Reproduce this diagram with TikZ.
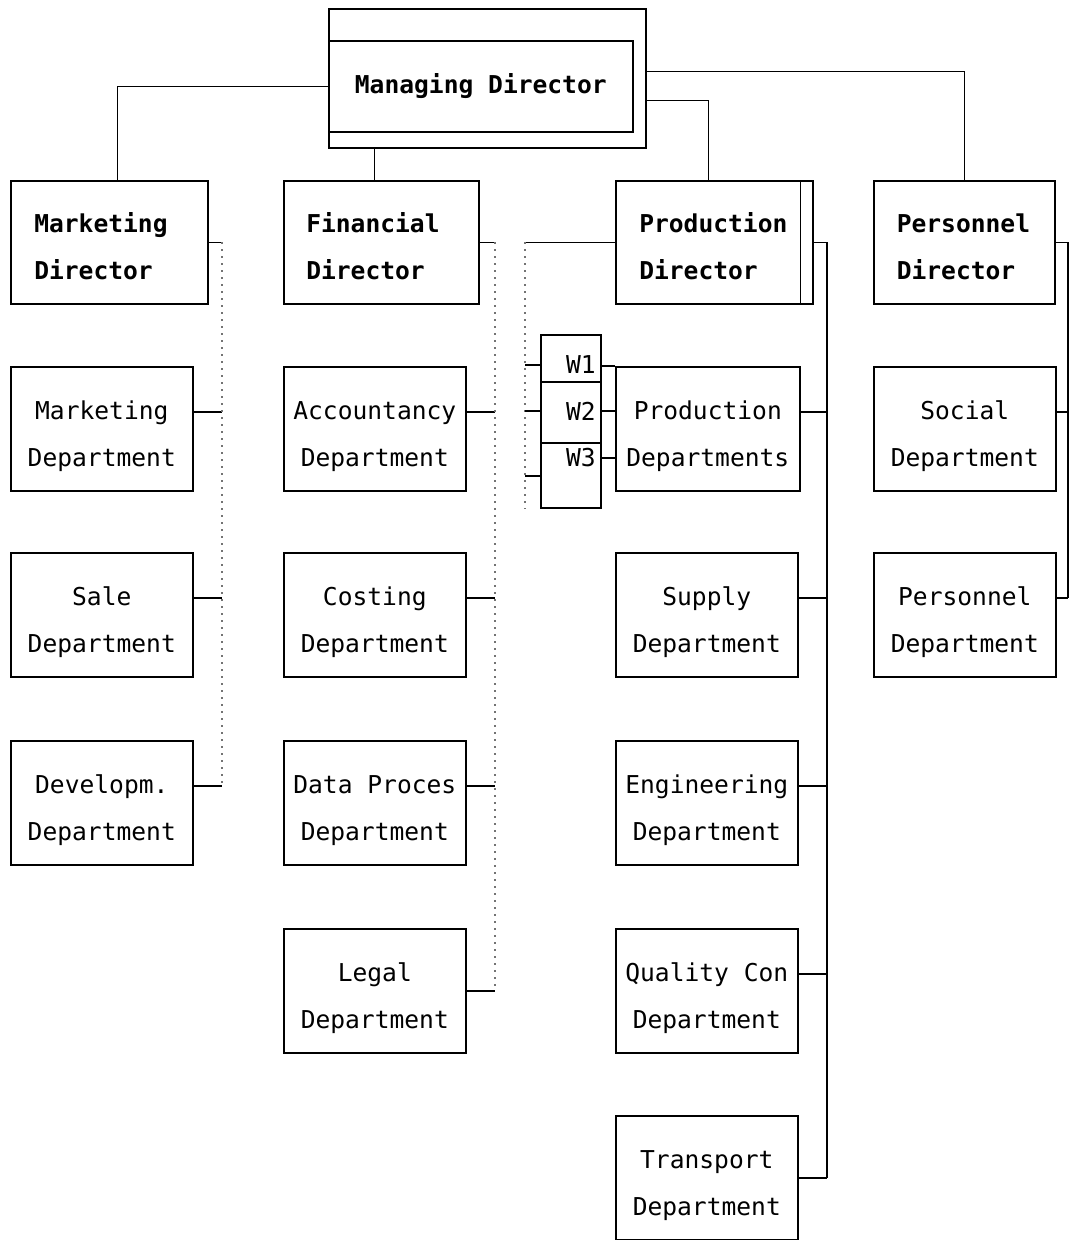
\documentclass[tikz,border=0pt]{standalone}
\usepackage{fontspec}
\newfontfamily\chartfont{DejaVu Sans Mono}
\tikzstyle{dirbox} = [rectangle, draw, line width=1.6pt, anchor=north west,
    minimum width=197pt, minimum height=123pt, inner sep=0pt, align=left,
    text width=150pt, text height=0pt, text depth=19pt,
    font=\chartfont\bfseries\fontsize{24.6}{47}\selectfont]
\tikzstyle{deptbox} = [rectangle, draw, line width=1.6pt, anchor=north west,
    minimum width=182pt, minimum height=124pt, inner sep=0pt, align=center,
    text height=76pt, text depth=0pt,
    font=\chartfont\fontsize{24.6}{47}\selectfont]
\tikzstyle{wlabel} = [anchor=east, inner sep=0pt, font=\chartfont\fontsize{24.6}{47}\selectfont]

\begin{document}
\begin{tikzpicture}[x=1pt,y=-1pt,
                    link/.style={line width=1.6pt},
                    faint/.style={line width=1.2pt,black!55,dash pattern=on 2pt off 5pt}]
  \useasboundingbox (0,0) rectangle (1070,1240);

  % managing director
  \node[rectangle,draw,line width=1.6pt,anchor=north west,minimum width=317pt,
        minimum height=139pt] (mdout) at (328,8) {};
  \node[dirbox,minimum width=304pt,minimum height=91pt,text width=,align=center,
        text height=15pt,text depth=0pt] (md) at (328,40) {Managing Director};

  % directors
  \node[dirbox]                    (mkd)   at (10,180)  {Marketing\\Director};
  \node[dirbox,minimum width=195pt] (fd)    at (283,180) {Financial\\Director};
  \node[dirbox]                    (pd)    at (615,180) {Production\\Director};
  \node[dirbox,minimum width=181pt,text width=135pt] (persd) at (873,180) {Personnel\\Director};
  \draw[link] ([xshift=-13pt]pd.north east) -- ([xshift=-13pt]pd.south east);

  % departments
  \node[deptbox] (mkdept)   at (10,366)   {Marketing\\Department};
  \node[deptbox] (sale)     at (10,552)   {Sale\\Department};
  \node[deptbox] (dev)      at (10,740)   {Developm.\\Department};
  \node[deptbox] (acc)      at (283,366)  {Accountancy\\Department};
  \node[deptbox] (cost)     at (283,552)  {Costing\\Department};
  \node[deptbox] (data)     at (283,740)  {Data Proces\\Department};
  \node[deptbox] (legal)    at (283,928)  {Legal\\Department};
  \node[deptbox,minimum width=184pt] (pdd) at (615,366) {Production\\Departments};
  \node[deptbox] (supply)   at (615,552)  {Supply\\Department};
  \node[deptbox] (eng)      at (615,740)  {Engineering\\Department};
  \node[deptbox] (qual)     at (615,928)  {Quality Con\\Department};
  \node[deptbox] (trans)    at (615,1115) {Transport\\Department};
  \node[deptbox] (social)   at (873,366)  {Social\\Department};
  \node[deptbox] (persdept) at (873,552)  {Personnel\\Department};

  % works
  \node[rectangle,draw,line width=1.6pt,anchor=north west,minimum width=60pt,
        minimum height=173pt] (wbox) at (540,334) {};
  \draw[link] ([yshift=-48pt]wbox.north west) -- ([yshift=-48pt]wbox.north east);
  \draw[link] ([yshift=-109pt]wbox.north west) -- ([yshift=-109pt]wbox.north east);
  \node[wlabel] (w1) at (596,365) {W1};
  \node[wlabel] (w2) at (596,411) {W2};
  \node[wlabel] (w3) at (596,458) {W3};

  % bus lines
  \coordinate (mkbus)   at (222,0);
  \coordinate (finbus)  at (495,0);
  \coordinate (wbus)    at (525,0);
  \coordinate (prodbus) at (827,0);
  \coordinate (persbus) at (1068,0);

  % managing director to directors
  \coordinate (mktop)  at ([xshift=8pt]mkd.north);
  \coordinate (fdtap)  at ([xshift=-7pt]fd.north);
  \coordinate (pdtop)  at ([xshift=-6pt]pd.north);
  \coordinate (mdtap1) at ([yshift=7pt]mdout.east);
  \coordinate (mdtap2) at ([yshift=-22pt]mdout.east);
  \draw[link] (md.west) -| (mktop);
  \draw[link] (fdtap) -- (fdtap |- mdout.south);
  \draw[link] (mdtap2) -| (pdtop);
  \draw[link] (mdtap1) -| (persd.north);

  % marketing
  \draw[link] (mkd.east) -- (mkd.east -| mkbus);
  \foreach \n in {mkdept,sale,dev} {
    \coordinate (tap\n) at ([yshift=17pt]\n.east);
    \draw[link] (tap\n) -- (tap\n -| mkbus);
  }
  \draw[faint] (mkd.east -| mkbus) -- (tapdev -| mkbus);

  % financial
  \draw[link] (fd.east) -- (fd.east -| finbus);
  \foreach \n in {acc,cost,data} {
    \coordinate (tap\n) at ([yshift=17pt]\n.east);
    \draw[link] (tap\n) -- (tap\n -| finbus);
  }
  \draw[link] (legal.east) -- (legal.east -| finbus);
  \draw[faint] (fd.east -| finbus) -- (legal.east -| finbus);

  % production
  \draw[link] (pd.east) -- (pd.east -| prodbus);
  \foreach \n in {pdd,supply,eng,qual} {
    \coordinate (tap\n) at ([yshift=17pt]\n.east);
    \draw[link] (tap\n) -- (tap\n -| prodbus);
  }
  \draw[link] (trans.east) -- (trans.east -| prodbus);
  \draw[link] (pd.east -| prodbus) -- (trans.east -| prodbus);

  % works to production departments
  \coordinate (wtap3) at ([yshift=-142pt]wbox.north west);
  \draw[link] (pd.west) -- (pd.west -| wbus);
  \draw[faint] (pd.west -| wbus) -- (wbox.south -| wbus);
  \draw[link] (w1 -| wbox.west) -- (w1 -| wbus);
  \draw[link] (w2 -| wbox.west) -- (w2 -| wbus);
  \draw[link] (wtap3) -- (wtap3 -| wbus);
  \draw[link] (pdd.north west) -- (pdd.north west -| wbox.east);
  \draw[link] (w2 -| wbox.east) -- (w2 -| pdd.west);
  \draw[link] (w3 -| wbox.east) -- (w3 -| pdd.west);

  % personnel
  \draw[link] (persd.east) -- (persd.east -| persbus);
  \foreach \n in {social,persdept} {
    \coordinate (tap\n) at ([yshift=17pt]\n.east);
    \draw[link] (tap\n) -- (tap\n -| persbus);
  }
  \draw[link] (persd.east -| persbus) -- (tappersdept -| persbus);
\end{tikzpicture}
\end{document}
